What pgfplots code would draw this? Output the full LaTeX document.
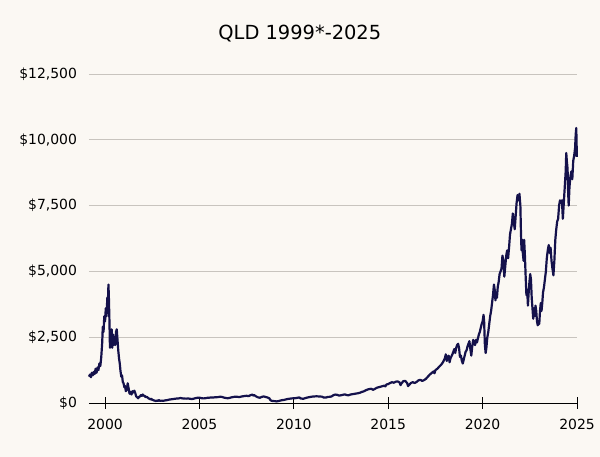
\documentclass[border=0pt]{standalone}
\usepackage{pgfplots}
\pgfplotsset{compat=1.18}
\usepackage{fontspec}
\setmainfont{DejaVu Sans}
\definecolor{bgc}{RGB}{251,248,243}
\definecolor{gridc}{RGB}{200,196,190}
\definecolor{linec}{RGB}{20,17,75}
\begin{document}
\begin{tikzpicture}[x=1bp,y=1bp]
\fill[bgc] (-89,-54) rectangle (511,403);
\useasboundingbox (-89,-54) rectangle (511,403);
\begin{axis}[
  at={(0,0)}, anchor=south west,
  scale only axis, width=488bp, height=329bp,
  xmin=1999.15, xmax=2025, ymin=0, ymax=12500,
  axis x line=bottom, axis y line=left,
  x axis line style={-, black, line width=0.8bp},
  y axis line style={draw=none},
  xtick={2000,2005,...,2025},
  ytick={0,2500,5000,7500,10000,12500},
  scaled ticks=false,
  xtick style={black, line width=0.8bp},
  ytick style={draw=none},
  major tick length=12bp, tick align=center,
  ymajorgrids, grid style={gridc, line width=0.8bp},
  /pgf/number format/assume math mode=true,
  x tick label style={/pgf/number format/1000 sep={}, font=\fontsize{14}{16}\selectfont, yshift=-7bp},
  y tick label style={/pgf/number format/1000 sep={,}, font=\fontsize{14}{16}\selectfont, xshift=-2.5bp},
  yticklabel={\$\pgfmathprintnumber{\tick}},
  title={QLD 1999*-2025},
  title style={at={(0.432,1)}, anchor=base, yshift=29bp, font=\fontsize{19.5}{23}\selectfont},
  axis background/.style={fill=bgc},
  clip=false,
]
\addplot[linec, line width=2.2bp, line join=round] coordinates {
(1999.15,1000)(1999.20,1080)(1999.25,980)(1999.30,1150)(1999.35,1050)(1999.40,1180)(1999.45,1100)(1999.50,1300)(1999.55,1150)(1999.60,1350)(1999.65,1250)(1999.70,1500)(1999.75,1400)(1999.80,1750)(1999.85,2300)(1999.88,2900)(1999.92,2700)(1999.96,3300)(2000.00,3100)(2000.04,3600)(2000.08,3300)(2000.12,4000)(2000.15,3800)(2000.18,4500)(2000.20,4100)(2000.23,3200)(2000.26,2100)(2000.29,2700)(2000.32,2300)(2000.35,2800)(2000.38,2100)(2000.42,2600)(2000.45,2200)(2000.50,2500)(2000.54,2200)(2000.58,2700)(2000.62,2800)(2000.66,2400)(2000.70,2000)(2000.74,1700)(2000.78,1500)(2000.82,1200)(2000.86,1000)(2000.90,1050)(2000.94,800)(2000.98,750)(2001.02,600)(2001.06,650)(2001.10,450)(2001.15,500)(2001.20,750)(2001.25,550)(2001.30,350)(2001.35,420)(2001.40,320)(2001.45,450)(2001.50,400)(2001.55,470)(2001.60,380)(2001.65,250)(2001.70,220)(2001.75,180)(2001.80,230)(2001.85,250)(2001.90,300)(2001.95,270)(2002.00,320)(2002.05,280)(2002.10,270)(2002.15,220)(2002.20,240)(2002.30,180)(2002.40,140)(2002.45,160)(2002.50,120)(2002.55,110)(2002.60,95)(2002.70,75)(2002.75,95)(2002.80,80)(2002.85,110)(2002.90,85)(2003.00,90)(2003.10,85)(2003.20,100)(2003.30,110)(2003.40,130)(2003.50,140)(2003.60,150)(2003.70,160)(2003.80,170)(2003.90,175)(2004.00,190)(2004.10,175)(2004.20,170)(2004.30,165)(2004.40,175)(2004.50,160)(2004.60,150)(2004.70,165)(2004.80,185)(2004.90,200)(2005.00,205)(2005.10,185)(2005.20,175)(2005.30,180)(2005.40,195)(2005.50,200)(2005.60,210)(2005.70,205)(2005.80,215)(2005.90,220)(2006.00,225)(2006.10,240)(2006.20,230)(2006.30,205)(2006.40,190)(2006.50,180)(2006.60,195)(2006.70,215)(2006.80,230)(2006.90,240)(2007.00,235)(2007.10,225)(2007.20,240)(2007.30,255)(2007.40,265)(2007.50,275)(2007.60,260)(2007.70,295)(2007.80,320)(2007.85,280)(2007.90,300)(2008.00,250)(2008.10,215)(2008.20,200)(2008.30,230)(2008.40,250)(2008.50,230)(2008.60,210)(2008.70,180)(2008.75,120)(2008.80,90)(2008.85,80)(2008.90,75)(2009.00,70)(2009.10,60)(2009.20,75)(2009.30,95)(2009.40,110)(2009.50,120)(2009.60,140)(2009.70,155)(2009.80,165)(2009.90,175)(2010.00,180)(2010.10,185)(2010.20,200)(2010.30,210)(2010.35,175)(2010.40,170)(2010.50,160)(2010.60,185)(2010.70,205)(2010.80,220)(2010.90,235)(2011.00,245)(2011.10,250)(2011.20,255)(2011.30,250)(2011.40,245)(2011.50,240)(2011.60,200)(2011.65,215)(2011.70,205)(2011.80,230)(2011.90,235)(2012.00,250)(2012.10,300)(2012.20,320)(2012.30,310)(2012.40,280)(2012.50,295)(2012.60,310)(2012.70,330)(2012.80,300)(2012.90,295)(2013.00,320)(2013.10,335)(2013.20,345)(2013.30,360)(2013.40,370)(2013.50,390)(2013.60,420)(2013.70,440)(2013.80,480)(2013.90,510)(2014.00,530)(2014.10,540)(2014.20,500)(2014.30,540)(2014.40,580)(2014.50,600)(2014.60,620)(2014.70,640)(2014.80,660)(2014.85,630)(2014.90,700)(2015.00,720)(2015.10,760)(2015.20,790)(2015.30,770)(2015.40,810)(2015.50,820)(2015.60,780)(2015.65,680)(2015.70,740)(2015.80,830)(2015.90,840)(2016.00,760)(2016.05,640)(2016.10,680)(2016.20,760)(2016.30,790)(2016.40,760)(2016.50,800)(2016.60,860)(2016.70,880)(2016.80,840)(2016.90,870)(2017.00,920)(2017.10,1000)(2017.20,1080)(2017.30,1140)(2017.40,1200)(2017.45,1130)(2017.50,1250)(2017.60,1300)(2017.70,1380)(2017.80,1450)(2017.90,1550)(2018.00,1700)(2018.05,1850)(2018.10,1600)(2018.15,1700)(2018.20,1800)(2018.25,1550)(2018.30,1700)(2018.40,1850)(2018.50,2050)(2018.55,1900)(2018.60,2100)(2018.65,2200)(2018.70,2250)(2018.75,2100)(2018.80,1750)(2018.85,1800)(2018.90,1600)(2018.95,1500)(2019.00,1650)(2019.05,1800)(2019.10,1950)(2019.15,2000)(2019.20,2150)(2019.25,2250)(2019.30,2350)(2019.35,2050)(2019.40,1800)(2019.45,2150)(2019.50,2400)(2019.55,2300)(2019.60,2200)(2019.65,2400)(2019.70,2300)(2019.75,2450)(2019.80,2600)(2019.85,2700)(2019.90,2850)(2019.95,3000)(2020.00,3100)(2020.05,3350)(2020.08,3100)(2020.12,2200)(2020.16,1900)(2020.20,2100)(2020.25,2500)(2020.30,2700)(2020.35,3000)(2020.40,3300)(2020.45,3500)(2020.50,3800)(2020.55,4100)(2020.60,4500)(2020.64,4300)(2020.68,3900)(2020.72,4200)(2020.76,4000)(2020.80,4400)(2020.85,4600)(2020.90,4900)(2020.95,5000)(2021.00,5100)(2021.05,5600)(2021.10,5400)(2021.15,4800)(2021.20,5200)(2021.25,5600)(2021.30,5800)(2021.35,5500)(2021.40,5900)(2021.45,6400)(2021.50,6600)(2021.55,6800)(2021.60,7200)(2021.65,6900)(2021.70,6600)(2021.75,7100)(2021.80,7600)(2021.85,7900)(2021.90,7700)(2021.95,7950)(2022.00,7500)(2022.03,6500)(2022.06,5800)(2022.10,6200)(2022.13,5700)(2022.17,5400)(2022.20,6200)(2022.24,5600)(2022.28,4800)(2022.32,4100)(2022.36,4300)(2022.40,3700)(2022.44,4200)(2022.48,4600)(2022.52,4900)(2022.56,4700)(2022.60,4000)(2022.64,3600)(2022.68,3200)(2022.72,3600)(2022.76,3300)(2022.80,3700)(2022.84,3500)(2022.88,3100)(2022.92,2950)(2022.96,3100)(2023.00,3000)(2023.04,3500)(2023.08,3800)(2023.12,3500)(2023.16,3800)(2023.20,4200)(2023.25,4400)(2023.30,4700)(2023.35,5000)(2023.40,5500)(2023.45,5800)(2023.50,6000)(2023.55,5700)(2023.60,5900)(2023.65,5400)(2023.70,5100)(2023.75,4850)(2023.80,5400)(2023.85,6200)(2023.90,6600)(2023.95,6900)(2024.00,7000)(2024.05,7500)(2024.10,7700)(2024.15,7600)(2024.20,7700)(2024.25,7000)(2024.30,7600)(2024.35,8200)(2024.40,8800)(2024.43,9500)(2024.46,9200)(2024.50,8900)(2024.53,8000)(2024.56,7500)(2024.60,8200)(2024.65,8600)(2024.70,8800)(2024.75,8500)(2024.80,9200)(2024.85,9400)(2024.90,9700)(2024.93,10200)(2024.96,10450)(2024.98,9800)(2024.99,9350)
};
\end{axis}
\end{tikzpicture}
\end{document}
